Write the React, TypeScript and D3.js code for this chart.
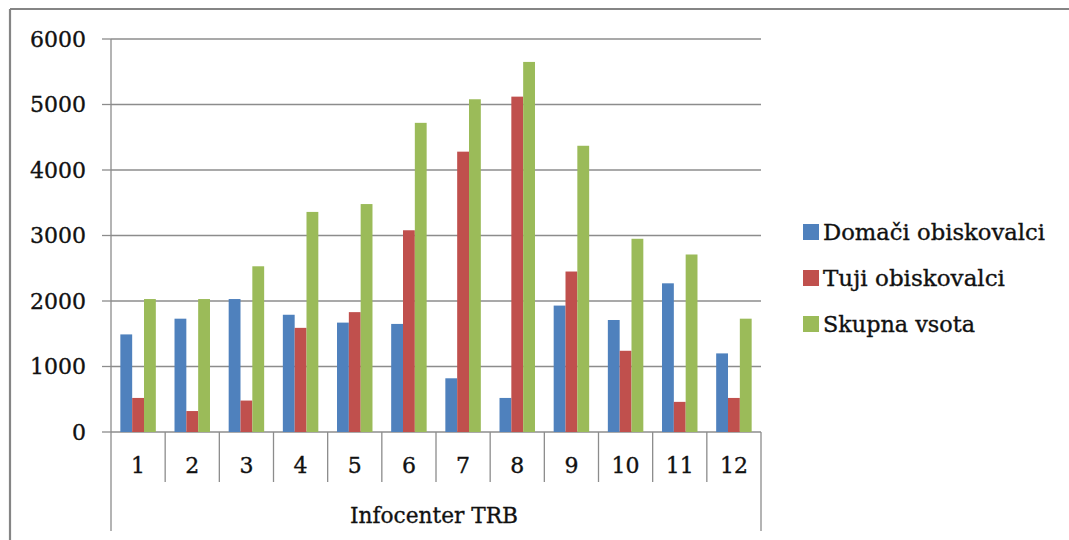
import React from "react";
import * as d3 from "d3";

const categories = ["1", "2", "3", "4", "5", "6", "7", "8", "9", "10", "11", "12"];
const domaci = [1490, 1730, 2030, 1790, 1670, 1650, 820, 520, 1930, 1710, 2270, 1200];
const tuji = [520, 320, 480, 1590, 1830, 3080, 4280, 5120, 2450, 1240, 460, 520];
const skupna = [2030, 2030, 2530, 3360, 3480, 4720, 5080, 5650, 4370, 2950, 2710, 1730];
const seriesNames = ["Domači obiskovalci", "Tuji obiskovalci", "Skupna vsota"];
const legendWidths = [222, 182, 152];
const yTicks = [0, 1000, 2000, 3000, 4000, 5000, 6000];
const groupLabel = "Infocenter TRB";

const colors = ["#4F81BD", "#C0504D", "#9BBB59"];
const W = 1069, H = 540;
const left = 111, right = 761, top = 39, bottom = 432;
const FONT = "'DejaVu Serif', serif";
const textStyle = { fontFamily: FONT, fontSize: 22, fill: "#111", stroke: "#111", strokeWidth: 0.35 };

export default function App() {
  const series = [domaci, tuji, skupna];
  const x = d3.scaleBand<string>().domain(categories).range([left, right]).paddingInner(0).paddingOuter(0);
  const y = d3.scaleLinear().domain([0, 6000]).range([bottom, top]);
  const bw = x.bandwidth();
  const barW = bw / 4.58;
  const groupOff = (bw - 3 * barW) / 2;
  const catEdges = categories.map((c) => x(c) as number).concat([right]);

  return (
    <svg width={W} height={H} style={{ position: "absolute", left: 0, top: 0, background: "#fff" }}>
      <rect x={0} y={0} width={W} height={H} fill="#fff" />
      <line x1={10} y1={9} x2={W} y2={9} stroke="#858585" strokeWidth={2.2} />
      <line x1={10} y1={9} x2={10} y2={H} stroke="#858585" strokeWidth={2.2} />
      {yTicks.map((t) => (
        <line key={"g" + t} x1={left} x2={right} y1={y(t)} y2={y(t)} stroke="#8c8c8c" strokeWidth={1.3} />
      ))}
      {yTicks.map((t) => (
        <g key={"t" + t}>
          <line x1={102} x2={left} y1={y(t)} y2={y(t)} stroke="#8c8c8c" strokeWidth={1.3} />
          <text x={86} y={y(t)} dy="0.36em" textAnchor="end" {...textStyle}>
            {t}
          </text>
        </g>
      ))}
      {series.map((s, si) =>
        s.map((v, i) => (
          <rect
            key={si + "-" + i}
            x={(x(categories[i]) as number) + groupOff + si * barW}
            y={y(v)}
            width={barW}
            height={y(0) - y(v)}
            fill={colors[si]}
          />
        ))
      )}
      <line x1={left} x2={left} y1={top} y2={531} stroke="#8c8c8c" strokeWidth={1.3} />
      <line x1={right} x2={right} y1={bottom} y2={531} stroke="#8c8c8c" strokeWidth={1.3} />
      {catEdges.slice(1, -1).map((e, i) => (
        <line key={"s" + i} x1={e} x2={e} y1={bottom} y2={482} stroke="#8c8c8c" strokeWidth={1.3} />
      ))}
      {categories.map((c) => (
        <text key={"x" + c} x={(x(c) as number) + bw / 2} y={473} textAnchor="middle" {...textStyle}>
          {c}
        </text>
      ))}
      <text x={(left + right) / 2 - 2} y={523} textAnchor="middle" {...textStyle} textLength={168} lengthAdjust="spacingAndGlyphs">
        {groupLabel}
      </text>
      {seriesNames.map((n, i) => {
        const cy = 232 + i * 46;
        return (
          <g key={"l" + i}>
            <rect x={803} y={cy - 8} width={16} height={16} fill={colors[i]} />
            <text x={823} y={cy} dy="0.36em" {...textStyle} textLength={legendWidths[i]} lengthAdjust="spacingAndGlyphs">
              {n}
            </text>
          </g>
        );
      })}
    </svg>
  );
}
